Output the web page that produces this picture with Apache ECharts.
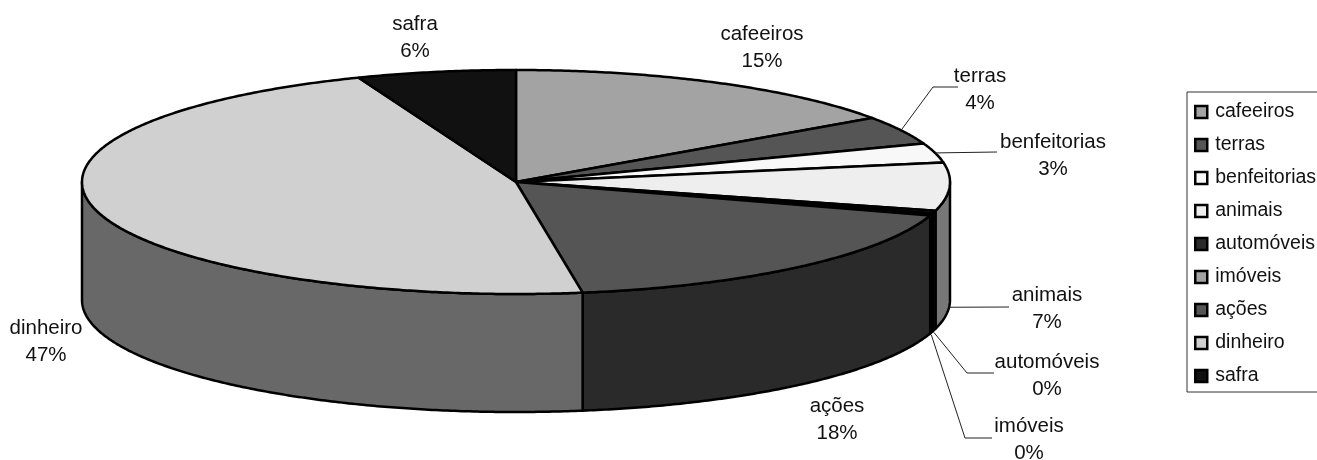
<!DOCTYPE html>
<html>
<head>
<meta charset="utf-8">
<style>html,body{margin:0;padding:0;background:#fff}#chart{width:1317px;height:460px}</style>
<script src="https://cdn.jsdelivr.net/npm/echarts@6/dist/echarts.min.js"></script>
</head>
<body>
<div id="chart"></div>
<script>
// Composition of assets, in percent, clockwise from twelve o'clock.
const categories = ['cafeeiros', 'terras', 'benfeitorias', 'animais', 'automóveis', 'imóveis', 'ações', 'dinheiro', 'safra'];
const shares = [15.3, 4.1, 2.8, 6.9, 0.4, 0.3, 17.7, 46.5, 5.9];
const topColors = ['#a3a3a3', '#555555', '#f8f8f8', '#eeeeee', '#2b2b2b', '#a3a3a3', '#555555', '#d0d0d0', '#111111'];

// Tilted disc geometry.
const disc = { cx: 516, cy: 182, rx: 434, ry: 112, depth: 118 };
const FONT = '"Liberation Sans", Arial, sans-serif';

// Label centres and leader elbows for each slice.
const labelCentres = [[762, 48], [980, 90], [1053, 156], [1047, 309], [1047, 376], [1029, 440], [837, 420], [46, 342], [415, 38]];
const leaderPaths = [null, [[933, 87], [958, 87]], [[997, 152]], [[1009, 307]], [[967, 373], [994, 373]], [[965, 438], [992, 438]], null, null, null];

const total = shares.reduce((a, b) => a + b, 0);
const cumulative = [];
shares.reduce((sum, v, i) => (cumulative[i] = sum, sum + v), 0);

// Angle is measured clockwise from the top of the disc.
function rimPoint(deg, drop) {
  const t = deg * Math.PI / 180;
  return [disc.cx + disc.rx * Math.sin(t), disc.cy - disc.ry * Math.cos(t) + (drop || 0)];
}
function arcPoints(a0, a1, drop) {
  const n = Math.max(2, Math.ceil(Math.abs(a1 - a0) * 2));
  const pts = [];
  for (let i = 0; i <= n; i++) pts.push(rimPoint(a0 + (a1 - a0) * i / n, drop));
  return pts;
}

function darker(hex) {
  const v = parseInt(hex.slice(1, 3), 16) >> 1;
  const h = v.toString(16).padStart(2, '0');
  return '#' + h + h + h;
}

function sliceItem(index) {
  const a0 = cumulative[index] / total * 360;
  const a1 = (cumulative[index] + shares[index]) / total * 360;
  const mid = (a0 + a1) / 2;
  const outline = { stroke: '#000', lineWidth: 2.5, lineJoin: 'round' };
  const children = [];

  // Outer wall: only the part of the rim that faces the viewer.
  const w0 = Math.max(a0, 90), w1 = Math.min(a1, 270);
  if (w1 > w0) {
    const pts = arcPoints(w0, w1, 0).concat(arcPoints(w1, w0, disc.depth));
    children.push({
      type: 'polygon', z2: 1, shape: { points: pts },
      style: Object.assign({ fill: darker(topColors[index]) }, outline)
    });
  }

  // Top face.
  children.push({
    type: 'polygon', z2: 2,
    shape: { points: [[disc.cx, disc.cy]].concat(arcPoints(a0, a1, 0)) },
    style: Object.assign({ fill: topColors[index] }, outline)
  });

  // Leader line from the slice rim to its label.
  if (leaderPaths[index]) {
    const start = rimPoint(mid, mid > 90 && mid < 270 ? disc.depth + 2.5 : 0);
    children.push({
      type: 'polyline', z2: 3,
      shape: { points: [start].concat(leaderPaths[index]) },
      style: { stroke: '#222', lineWidth: 1, fill: null }
    });
  }

  // Two-line label: name, then rounded percentage.
  const c = labelCentres[index];
  children.push({
    type: 'text', z2: 4, x: c[0], y: c[1],
    style: {
      text: categories[index] + '\n' + Math.round(shares[index] / total * 100) + '%',
      font: '20.5px ' + FONT, lineHeight: 27, fill: '#111',
      align: 'center', verticalAlign: 'middle'
    }
  });
  return { type: 'group', children };
}

const chart = echarts.init(document.getElementById('chart'));
chart.setOption({
  animation: false,
  backgroundColor: '#fff',
  legend: {
    orient: 'vertical',
    left: 1187,
    top: 92,
    padding: [9, 8, 5, 7],
    itemWidth: 12,
    itemHeight: 12,
    itemGap: 11,
    selectedMode: false,
    backgroundColor: '#fff',
    borderColor: '#333',
    borderWidth: 1,
    borderRadius: 0,
    icon: 'rect',
    itemStyle: { borderColor: '#000', borderWidth: 2.5 },
    textStyle: { fontFamily: FONT, fontSize: 19.5, color: '#111', padding: [0, 0, 0, 3], lineHeight: 22 },
    data: categories
  },
  series: categories.map((name, i) => ({
    type: 'custom',
    name,
    coordinateSystem: 'none',
    silent: true,
    itemStyle: { color: topColors[i] },
    data: [shares[i]],
    renderItem: () => sliceItem(i)
  }))
});
</script>
</body>
</html>
